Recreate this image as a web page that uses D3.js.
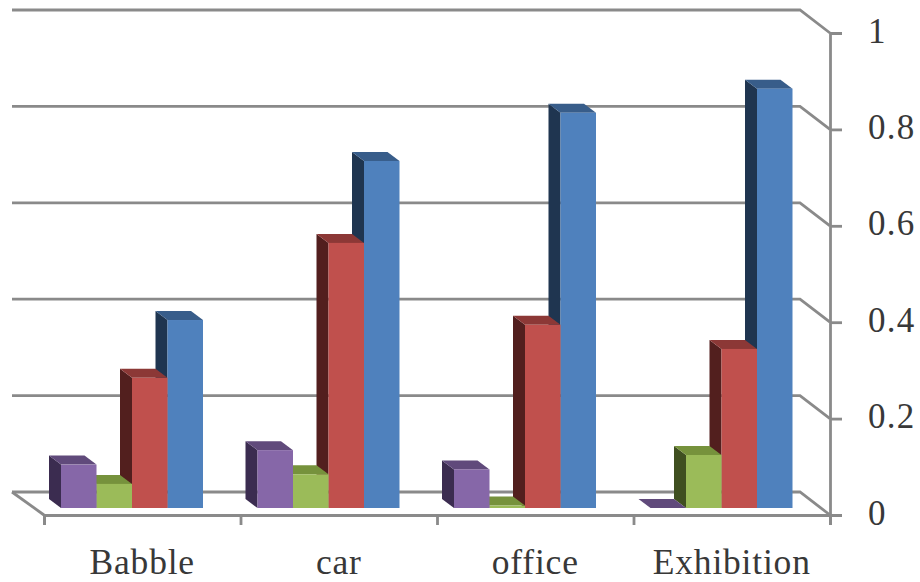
<!DOCTYPE html>
<html>
<head>
<meta charset="utf-8">
<script src="https://cdn.jsdelivr.net/npm/d3@7"></script>
<style>
  html, body { margin: 0; padding: 0; background: #fff; }
  text { font-family: "Liberation Serif", serif; fill: #383838; }
</style>
</head>
<body>
<svg id="chart" width="920" height="582"></svg>
<script>
const categories = ['Babble', 'car', 'office', 'Exhibition'];
const seriesNames = ['purple', 'green', 'red', 'blue'];
const purple = [0.09, 0.12, 0.08, 0];
const green = [0.05, 0.07, 0.005, 0.11];
const red = [0.27, 0.55, 0.38, 0.33];
const blue = [0.39, 0.72, 0.82, 0.87];
const yTicks = [0, 0.2, 0.4, 0.6, 0.8, 1];

const seriesValues = [purple, green, red, blue];
const front = ['#8667a8', '#9bbb59', '#c0504d', '#4f81bd'];
const topFace = ['#604a7b', '#76923c', '#8c3836', '#385d8a'];
const sideFace = ['#3b2c50', '#3f4f20', '#521f1e', '#1f3550'];
const axisGrey = '#8a8a8a';

const svg = d3.select('#chart');

// wall and floor offset of the 3d box, bars stand part way in
const wall = { dx: -30, dy: -23 };
const bar = { dx: -12, dy: -9, lift: -7 };

const y = d3.scaleLinear().domain([0, 1]).range([515, 33]);
const xEdge = d3.scaleLinear().domain([0, categories.length]).range([44, 830]);
const x0 = d3.scaleBand().domain(categories).range([44, 830]);
const x1 = d3.scaleBand().domain(seriesNames).range([17, 159]);

// back wall gridlines with the short diagonal down to the value axis
svg.append('g').selectAll('path')
  .data(yTicks)
  .join('path')
  .attr('fill', 'none')
  .attr('stroke', axisGrey)
  .attr('stroke-width', 2.8)
  .attr('d', d => {
    const x2 = xEdge.range()[1];
    const p = d3.path();
    p.moveTo(12, y(d) + wall.dy);
    p.lineTo(x2 + wall.dx, y(d) + wall.dy);
    p.lineTo(x2, y(d));
    return p.toString();
  });

// left edge of the floor
svg.append('line')
  .attr('x1', 12).attr('y1', y(0) + wall.dy)
  .attr('x2', xEdge(0)).attr('y2', y(0))
  .attr('stroke', axisGrey).attr('stroke-width', 2.8);

// value axis
const yAxis = svg.append('g')
  .attr('transform', `translate(${xEdge(categories.length)},0)`)
  .call(d3.axisRight(y).tickValues(yTicks).tickSize(12).tickFormat(d3.format('~g')));
yAxis.selectAll('path, line').attr('stroke', axisGrey).attr('stroke-width', 2.8);
yAxis.selectAll('text')
  .attr('x', 38).attr('dy', 9).attr('text-anchor', 'start')
  .attr('font-size', 35).attr('letter-spacing', 1.2)
  .style('font-family', '"Liberation Serif", serif');

// category axis, ticks sit on the band edges
const xAxis = svg.append('g')
  .attr('transform', `translate(0,${y(0)})`)
  .call(d3.axisBottom(xEdge).tickValues(d3.range(categories.length + 1)).tickSize(10).tickFormat(''));
xAxis.selectAll('path, line').attr('stroke', axisGrey).attr('stroke-width', 2.8);

svg.append('g').selectAll('text')
  .data(categories)
  .join('text')
  .attr('x', d => x0(d) + x0.bandwidth() / 2)
  .attr('y', 574)
  .attr('text-anchor', 'middle')
  .attr('font-size', 35.5)
  .attr('letter-spacing', 0.8)
  .text(d => d);

// bars, drawn last series first: each front face hides the side of the next one
const points = pts => pts.map(p => p.join(',')).join(' ');

categories.forEach((cat, c) => {
  const g = svg.append('g');
  d3.range(seriesNames.length).reverse().forEach(s => {
    const xl = x0(cat) + x1(seriesNames[s]);
    const xr = xl + x1.bandwidth();
    const base = y(0) + bar.lift;
    const top = y(seriesValues[s][c]) + bar.lift;

    g.append('polygon')
      .attr('fill', sideFace[s])
      .attr('points', points([[xl, top], [xl + bar.dx, top + bar.dy], [xl + bar.dx, base + bar.dy], [xl, base]]));
    g.append('polygon')
      .attr('fill', topFace[s])
      .attr('points', points([[xl, top], [xl + bar.dx, top + bar.dy], [xr + bar.dx, top + bar.dy], [xr, top]]));
    g.append('rect')
      .attr('x', xl).attr('y', top)
      .attr('width', xr - xl).attr('height', base - top)
      .attr('fill', front[s]);
  });
});
</script>
</body>
</html>
